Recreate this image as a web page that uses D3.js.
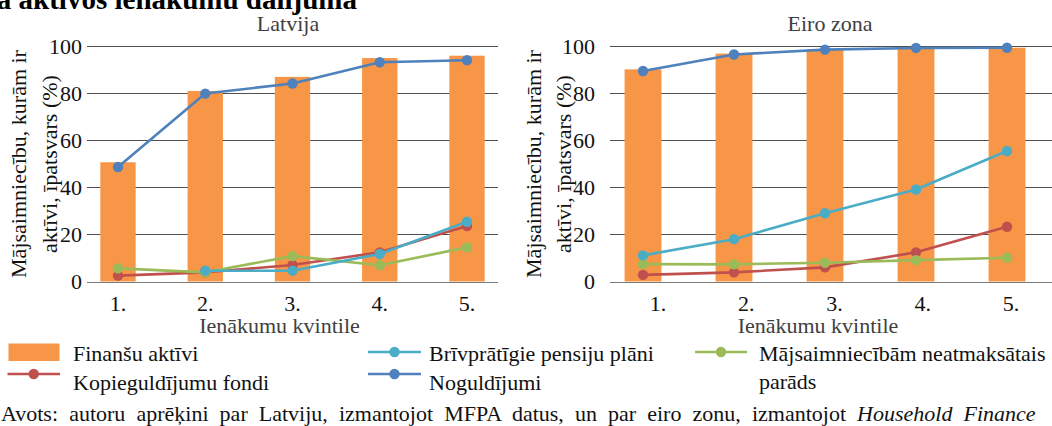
<!DOCTYPE html>
<html lang="lv">
<head>
<meta charset="utf-8">
<script src="https://cdn.jsdelivr.net/npm/d3@7"></script>
<style>
  html, body { margin: 0; padding: 0; background: #fff; }
  svg text { font-family: "Liberation Serif", "DejaVu Serif", serif; }
</style>
</head>
<body>
<svg id="chart" width="1052" height="426"></svg>
<script>
// Ienākumu kvintiles
const quintiles = ["1.", "2.", "3.", "4.", "5."];
const yTicks = [0, 20, 40, 60, 80, 100];

// Latvija (%)
const lvFinancial = [50.7, 81.0, 87.0, 95.0, 96.0];
const lvFunds     = [2.5, 3.9, 7.0, 12.4, 23.6];
const lvPension   = [null, 4.6, 4.6, 11.7, 25.4];
const lvDeposits  = [48.7, 79.9, 84.2, 93.2, 94.1];
const lvDebt      = [5.6, 3.9, 10.8, 6.9, 14.5];

// Eiro zona (%)
const euFinancial = [90.2, 96.9, 98.7, 99.0, 99.4];
const euFunds     = [2.8, 3.9, 6.0, 12.4, 23.3];
const euPension   = [11.1, 18.0, 29.0, 39.1, 55.5];
const euDeposits  = [89.5, 96.5, 98.6, 99.3, 99.4];
const euDebt      = [7.4, 7.3, 8.0, 9.1, 10.1];

const seriesNames = {
  financial: "Finanšu aktīvi",
  funds: "Kopieguldījumu fondi",
  pension: "Brīvprātīgie pensiju plāni",
  deposits: "Noguldījumi",
  debt: ["Mājsaimniecībām neatmaksātais", "parāds"]
};

const colors = {
  financial: "#F79646",
  funds: "#C0504D",
  pension: "#4BACC6",
  deposits: "#4F81BD",
  debt: "#9BBB59"
};

const FS = 22;
const svg = d3.select("#chart");

// Virsraksts (augšdaļa ārpus lapas)
svg.append("text")
  .attr("x", 357).attr("y", 9)
  .attr("text-anchor", "end")
  .attr("font-size", 29).attr("font-weight", "bold").attr("fill", "#000")
  .text("Mājsaimniecību līdzdalība aktīvos ienākumu dalījumā");

const y = d3.scaleLinear().domain([0, 100]).range([281.5, 46.3]);

const panels = [
  {
    title: "Latvija", titleX: 288,
    grid: [87, 498], tickEnd: 82,
    centers: [118, 467], labelCenters: [118, 467],
    yTitleX: [19, 50],
    data: { financial: lvFinancial, funds: lvFunds, pension: lvPension, deposits: lvDeposits, debt: lvDebt }
  },
  {
    title: "Eiro zona", titleX: 830,
    grid: [610, 1052], tickEnd: 595,
    centers: [643, 1007], labelCenters: [658, 1011],
    yTitleX: [534, 564],
    data: { financial: euFinancial, funds: euFunds, pension: euPension, deposits: euDeposits, debt: euDebt }
  }
];

panels.forEach(p => {
  const g = svg.append("g");
  const x = d3.scalePoint().domain(quintiles).range(p.centers);
  const xLab = d3.scalePoint().domain(quintiles).range(p.labelCenters);
  const barW = x.step() * 0.405;

  // Režģa līnijas
  g.selectAll("line.grid").data(yTicks).join("line")
    .attr("x1", p.grid[0]).attr("x2", p.grid[1])
    .attr("y1", d => Math.round(y(d)) + 0.5).attr("y2", d => Math.round(y(d)) + 0.5)
    .attr("stroke", d => d === 0 ? "#7a7a7a" : "#505050")
    .attr("stroke-width", 1.1);

  // Y ass iedaļas
  g.selectAll("text.ytick").data(yTicks).join("text")
    .attr("x", p.tickEnd).attr("y", d => y(d) + 7.5)
    .attr("text-anchor", "end").attr("font-size", FS).attr("fill", "#111")
    .text(d => d);

  // Stabiņi: finanšu aktīvi
  g.selectAll("rect.bar").data(p.data.financial).join("rect")
    .attr("x", (d, i) => x(quintiles[i]) - barW / 2)
    .attr("width", barW)
    .attr("y", d => y(d))
    .attr("height", d => y(0) - y(d))
    .attr("fill", colors.financial);

  // Līnijas ar marķieriem
  ["funds", "debt", "pension", "deposits"].forEach(key => {
    const vals = p.data[key].map((v, i) => ({ q: quintiles[i], v }));
    const line = d3.line()
      .defined(d => d.v !== null)
      .x(d => x(d.q)).y(d => y(d.v));
    g.append("path").datum(vals)
      .attr("d", line).attr("fill", "none")
      .attr("stroke", colors[key]).attr("stroke-width", 2.6)
      .attr("stroke-linejoin", "round");
    g.selectAll(null).data(vals.filter(d => d.v !== null)).join("circle")
      .attr("cx", d => x(d.q)).attr("cy", d => y(d.v))
      .attr("r", 5.2).attr("fill", colors[key]);
  });

  // X ass iedaļas
  g.selectAll("text.xtick").data(quintiles).join("text")
    .attr("x", d => xLab(d)).attr("y", 311)
    .attr("text-anchor", "middle").attr("font-size", FS).attr("fill", "#111")
    .text(d => d);

  // X ass nosaukums
  g.append("text")
    .attr("x", (p.grid[0] + p.grid[1]) / 2 - 13).attr("y", 333)
    .attr("text-anchor", "middle").attr("font-size", FS).attr("fill", "#404040")
    .text("Ienākumu kvintile");

  // Paneļa nosaukums
  g.append("text")
    .attr("x", p.titleX).attr("y", 31)
    .attr("text-anchor", "middle").attr("font-size", FS).attr("fill", "#404040")
    .text(p.title);

  // Y ass nosaukums
  ["Mājsaimniecību, kurām ir", "aktīvi, īpatsvars (%)"].forEach((t, i) => {
    svg.append("text")
      .attr("transform", `translate(${p.yTitleX[i] + 7},164) rotate(-90)`)
      .attr("text-anchor", "middle").attr("font-size", FS).attr("fill", "#111")
      .text(t);
  });
});

// Leģenda
const legend = svg.append("g").attr("font-size", FS).attr("fill", "#111");

legend.append("rect")
  .attr("x", 8.5).attr("y", 343.5).attr("width", 51).attr("height", 17.5)
  .attr("fill", colors.financial);
legend.append("text").attr("x", 73).attr("y", 361).text(seriesNames.financial);

function lineItem(key, x1, x2, cy, tx, ty, label) {
  legend.append("line")
    .attr("x1", x1).attr("x2", x2).attr("y1", cy).attr("y2", cy)
    .attr("stroke", colors[key]).attr("stroke-width", 2.6);
  legend.append("circle")
    .attr("cx", (x1 + x2) / 2).attr("cy", cy).attr("r", 5.2).attr("fill", colors[key]);
  const t = legend.append("text").attr("x", tx).attr("y", ty);
  if (Array.isArray(label)) {
    label.forEach((s, i) => t.append("tspan").attr("x", tx).attr("dy", i === 0 ? 0 : 28).text(s));
  } else {
    t.text(label);
  }
}

lineItem("funds", 7.5, 60, 374, 73, 390, seriesNames.funds);
lineItem("pension", 368, 421, 352, 429, 361, seriesNames.pension);
lineItem("deposits", 368, 421, 374, 429, 390, seriesNames.deposits);
lineItem("debt", 695, 747, 352, 759, 361, seriesNames.debt);

// Avots: izlīdzināta rinda līdz 1030 px
const src = svg.append("text").attr("x", 1).attr("y", 421).attr("font-size", FS).attr("fill", "#111");
src.append("tspan").text("Avots: autoru aprēķini par Latviju, izmantojot MFPA datus, un par eiro zonu, izmantojot ");
src.append("tspan").attr("font-style", "italic").text("Household Finance");
const natural = src.node().getComputedTextLength();
const spaces = (src.text().match(/ /g) || []).length - 1;
if (natural < 1029 && spaces > 0) {
  src.attr("word-spacing", (1029 - natural) / spaces);
}
</script>
</body>
</html>
